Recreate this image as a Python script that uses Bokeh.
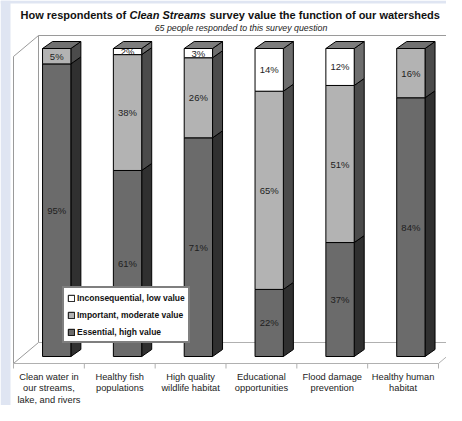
from bokeh.plotting import figure
from bokeh.models import Label, Legend, LegendItem, Range1d
from bokeh.embed import file_html
from bokeh.resources import INLINE
from bokeh.core.properties import value

# ---------------- data ----------------
categories = [
    "Clean water in\nour streams,\nlake, and rivers",
    "Healthy fish\npopulations",
    "High quality\nwildlife habitat",
    "Educational\nopportunities",
    "Flood damage\nprevention",
    "Healthy human\nhabitat",
]
essential = [95, 61, 71, 22, 37, 84]
important = [5, 38, 26, 65, 51, 16]
inconsequential = [0, 2, 3, 14, 12, 0]
series_names = ["Essential, high value", "Important, moderate value", "Inconsequential, low value"]
title_parts = ["How respondents of", "Clean Streams", "survey value the function of our watersheds"]
subtitle = "65 people responded to this survey question"

# ---------------- layout / style ----------------
W, H = 446, 405
PX_X = 70.833      # pixels per category
X0PX = 13          # pixel of category boundary 0
Y0PX = 356         # pixel (from top) of 0 %
PX_Y = 3.08        # pixels per percent
FONT = "Liberation Sans"

front_colors = ["#6b6b6b", "#b3b3b3", "#ffffff"]
side_colors = ["#303030", "#4b4b4b", "#6e6e6e"]
top_colors = ["#505050", "#707070", "#7d7d7d"]
wall_color = "#9a9a9a"
floor_color = "#b0b0b0"
frame_bg = "#dfe5f2"

DX = 25 / PX_X           # box depth
DY = 21 / PX_Y
FLOOR = -7 / PX_Y
WALL_TOP = (Y0PX - 56) / PX_Y
BL, BR = 0.41, 0.81      # bar front face inside category
BDX = 10 / PX_X          # bar depth
BDY = 7 / PX_Y

n = len(categories)
XS, XE = -X0PX / PX_X, (W - X0PX) / PX_X
YS, YE = -(H - Y0PX) / PX_Y, Y0PX / PX_Y

p = figure(width=W, height=H, output_backend="svg", toolbar_location=None,
           x_range=Range1d(XS, XE), y_range=Range1d(YS, YE),
           x_axis_location=None, y_axis_location=None, min_border=0)
p.grid.visible = False
p.outline_line_color = None
p.background_fill_color = "white"
p.border_fill_color = "white"

# light-blue page strip (left and top)
p.quad(left=[XS, XS], right=[XS + 10 / PX_X, XE], bottom=[YS, YE - 3 / PX_Y], top=[YE, YE],
       fill_color=frame_bg, line_color=None)

# ---------------- 3D box ----------------
p.patch([0, 0, DX, DX], [FLOOR, WALL_TOP, WALL_TOP + DY, FLOOR + DY],
        fill_color="white", line_color=wall_color, line_width=1)
p.line([DX, n + 1], [WALL_TOP + DY] * 2, line_color=wall_color, line_width=1)
p.line([DX, n + 1], [FLOOR + DY] * 2, line_color=floor_color, line_width=1)
p.line([0, n], [FLOOR] * 2, line_color=floor_color, line_width=1)
p.line([n, n + DX], [FLOOR, FLOOR + DY], line_color=floor_color, line_width=1)
p.segment(x0=list(range(n + 1)), y0=[FLOOR] * (n + 1), x1=list(range(n + 1)),
          y1=[FLOOR - 5 / PX_Y] * (n + 1), line_color=floor_color, line_width=1)

# ---------------- bars ----------------
series = [essential, important, inconsequential]
totals = [sum(v) for v in zip(*series)]
cum = [0.0] * n
front_renderers = []
lab_x, lab_y, lab_t = [], [], []
top_xs, top_ys, top_c = [], [], []
for s, vals in enumerate(series):
    left, right, bottom, top = [], [], [], []
    side_xs, side_ys = [], []
    for i, v in enumerate(vals):
        if v <= 0:
            continue
        h = v / totals[i] * 100
        b, t = cum[i], cum[i] + h
        cum[i] = t
        x0, x1 = i + BL, i + BR
        left.append(x0); right.append(x1); bottom.append(b); top.append(t)
        side_xs.append([x1, x1 + BDX, x1 + BDX, x1])
        side_ys.append([b, b + BDY, t + BDY, t])
        lab_x.append((x0 + x1) / 2); lab_y.append((b + t) / 2); lab_t.append(f"{v}%")
    p.patches(side_xs, side_ys, fill_color=side_colors[s], line_color="black", line_width=1)
    r = p.quad(left=left, right=right, bottom=bottom, top=top,
               fill_color=front_colors[s], line_color="black", line_width=1)
    front_renderers.append(r)

for i in range(n):
    s_top = max(s for s in range(3) if series[s][i] > 0)
    x0, x1, t = i + BL, i + BR, cum[i]
    top_xs.append([x0, x1, x1 + BDX, x0 + BDX])
    top_ys.append([t, t, t + BDY, t + BDY])
    top_c.append(top_colors[s_top])
p.patches(top_xs, top_ys, fill_color=top_c, line_color="black", line_width=1)

p.text(x=lab_x, y=lab_y, text=lab_t, text_font=value(FONT), text_font_size="9.5px",
       text_align="center", text_baseline="middle", text_color="#1e1e1e")

# ---------------- category labels ----------------
cx, cy, ct = [], [], []
for i, c in enumerate(categories):
    for k, line in enumerate(c.split("\n")):
        cx.append(i + 0.5)
        cy.append((Y0PX - (376 + 11.5 * k)) / PX_Y)
        ct.append(line)
p.text(x=cx, y=cy, text=ct, text_font=value(FONT), text_font_size="9.3px",
       text_align="center", text_baseline="middle", text_color="#222222")

# ---------------- legend ----------------
legend = Legend(items=[LegendItem(label=series_names[s], renderers=[front_renderers[s]]) for s in (2, 1, 0)],
                location=(62, 62), orientation="vertical",
                glyph_width=8, glyph_height=8, label_height=13, spacing=4, padding=3,
                label_standoff=2, margin=0,
                label_text_font=FONT, label_text_font_size="8.5px", label_text_font_style="bold",
                label_text_color="#111111",
                border_line_color="black", border_line_width=2,
                background_fill_color="white", background_fill_alpha=1.0)
p.add_layout(legend, "center")

# ---------------- titles ----------------
title_x = [20, 129, 209]
title_style = ["bold", "bold italic", "bold"]
for tx, txt, st in zip(title_x, title_parts, title_style):
    p.add_layout(Label(x=tx, y=H - 14, x_units="screen", y_units="screen", text=txt,
                       text_font=FONT, text_font_size="11px", text_font_style=st,
                       text_color="#111111", text_baseline="middle", text_align="left"))
p.add_layout(Label(x=240.5, y=H - 27, x_units="screen", y_units="screen", text=subtitle,
                   text_font=FONT, text_font_size="8.8px", text_font_style="italic",
                   text_color="#222222", text_baseline="middle", text_align="center"))

open("out.html", "w").write(file_html(p, INLINE))
